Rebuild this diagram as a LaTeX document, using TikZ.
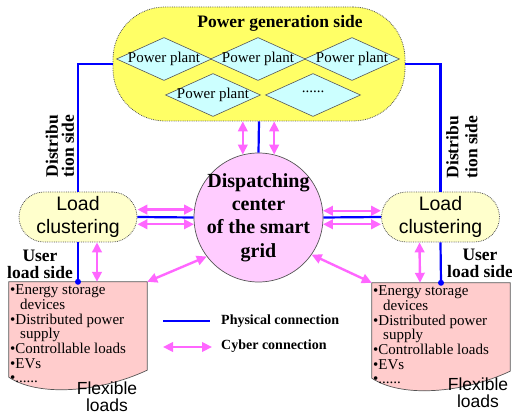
\documentclass[tikz,border=0pt]{standalone}
\usepackage{fontspec}
\setmainfont{Liberation Serif}
\setsansfont{Liberation Sans}
\usetikzlibrary{shapes.geometric,arrows.meta}
\definecolor{genyellow}{HTML}{FFFF66}
\definecolor{plantcyan}{HTML}{CCFFFF}
\definecolor{dcpink}{HTML}{FFCCFF}
\definecolor{lcyellow}{HTML}{FFFFCC}
\definecolor{flexpink}{HTML}{FFCCCC}
\definecolor{cybercol}{HTML}{FF66FF}
\definecolor{edgegray}{HTML}{555555}
\begin{document}
\begin{tikzpicture}[x=1pt,y=-1pt,
  phys/.style={draw=blue, line width=2.2pt},
  cyberarrow/.style={draw=cybercol, line width=2.4pt,
    {Triangle[length=10pt,width=9.5pt]}-{Triangle[length=10pt,width=9.5pt]}},
  genbox/.style={rectangle, rounded corners=52pt, draw=edgegray, densely dotted,
    line width=0.8pt, fill=genyellow, minimum width=292pt, minimum height=114pt},
  plant/.style={diamond, draw=edgegray, fill=plantcyan, line width=0.6pt,
    minimum width=95pt, minimum height=43pt, inner sep=0pt},
  planttext/.style={font=\fontsize{15}{15}\selectfont, inner sep=0pt},
  boldtext/.style={font=\fontsize{17.5}{17}\selectfont\bfseries, align=center, inner sep=0pt},
  lcbox/.style={rectangle, rounded corners=25pt, draw=edgegray, densely dotted,
    line width=0.8pt, fill=lcyellow, minimum width=118pt, minimum height=50pt,
    font=\fontsize{19.5}{23}\selectfont\sffamily, align=center, inner sep=0pt},
  dcbox/.style={circle, draw=edgegray, fill=dcpink, line width=0.7pt,
    minimum size=129pt, inner sep=0pt},
  dctext/.style={font=\fontsize{20}{23.3}\selectfont\bfseries, align=center, inner sep=0pt},
  flexframe/.style={rectangle, minimum width=138pt, minimum height=95pt, inner sep=0pt},
  flexshape/.style={draw=edgegray, fill=flexpink, line width=0.7pt},
  flextext/.style={font=\fontsize{15}{14.7}\selectfont, align=left, inner sep=1pt, anchor=west},
  flexlabel/.style={font=\fontsize{17.5}{17}\selectfont\sffamily, align=center, inner sep=0pt},
  legendtext/.style={font=\fontsize{14}{14}\selectfont\bfseries, anchor=west, inner sep=0pt},
  dot/.style={circle, fill=blue, inner sep=0pt, minimum size=6pt}
]
\useasboundingbox (0,0) rectangle (512,414);

% generation side
\node[genbox] (gen) at (259,64) {};
\node[boldtext] (gentitle) at (280,23) {Power generation side};
\node[plant] (d1) at (164,59) {};
\node[plant] (d2) at (258,59) {};
\node[plant] (d3) at (352,59) {};
\node[plant] (d4) at (213,95) {};
\node[plant] (d5) at (313,95) {};
\node[planttext] (t1) at (d1) {Power plant};
\node[planttext] (t2) at (d2) {Power plant};
\node[planttext] (t3) at (d3) {Power plant};
\node[planttext] (t4) at (d4) {Power plant};
\node[planttext] (t5) at ([yshift=3pt]d5) {......};

% dispatching center
\node[dcbox] (dc) at (258.5,217.5) {};
\node[dctext] (dct) at (dc) {Dispatching\\center\\of the smart\\grid};

% load clustering
\node[lcbox] (lcL) at (78,217) {Load\\clustering};
\node[lcbox] (lcR) at (440.5,217) {Load\\clustering};

% flexible loads
\node[flexframe] (flexL) at (78,329.5) {};
\node[flexframe] (flexR) at (441,330.5) {};
\draw[flexshape] (flexL.south west) -- (flexL.north west) -- (flexL.north east)
  -- ([yshift=7pt]flexL.south east) .. controls +(-47,22) and +(30,20) .. (flexL.south west) -- cycle;
\draw[flexshape] (flexR.south west) -- (flexR.north west) -- (flexR.north east)
  -- ([yshift=7pt]flexR.south east) .. controls +(-47,22) and +(30,20) .. (flexR.south west) -- cycle;
\node[flextext] (fl) at (9,334) {\textbullet Energy storage\\\hspace*{10pt}devices\\\textbullet Distributed power\\\hspace*{10pt}supply\\\textbullet Controllable loads\\\textbullet EVs\\\textbullet ......};
\node[flextext] (fr) at (372,335) {\textbullet Energy storage\\\hspace*{10pt}devices\\\textbullet Distributed power\\\hspace*{10pt}supply\\\textbullet Controllable loads\\\textbullet EVs\\\textbullet ......};
\node[flexlabel] (flabL) at (107,396.5) {Flexible\\loads};
\node[flexlabel] (flabR) at (478,393) {Flexible\\loads};

% side labels
\node[boldtext] (userL) at (40,264.5) {User\\load side};
\node[boldtext] (userR) at (480,263) {User\\load side};
\node[boldtext, rotate=90, align=left, font=\fontsize{17.5}{16}\selectfont\bfseries] (distL) at (60,146) {Distribu\\tion side};
\node[boldtext, rotate=90, align=left, font=\fontsize{17.5}{19}\selectfont\bfseries] (distR) at (462,147) {Distribu\\tion side};

% physical connections
\draw[phys] (gen.west) -| (lcL.north);
\draw[phys] (gen.east) -| (lcR.north);
\draw[phys] (gen.south) -- (dc.north);
\draw[phys] (lcL.east) -- (dc.west);
\draw[phys] (dc.east) -- (lcR.west);
\node[dot] (dotL) at (flexL.north) {};
\node[dot] (dotR) at (flexR.north) {};
\draw[phys] (lcL.south) -- (dotL.center);
\draw[phys] (lcR.south) -- (dotR.center);

% cyber connections
\draw[cyberarrow] (gen.south -| dc.104) -- (dc.104);
\draw[cyberarrow] (gen.south -| dc.76) -- (dc.76);
\draw[cyberarrow] (lcL.east |- dc.173.3) -- (dc.173.3);
\draw[cyberarrow] (lcL.east |- dc.186.7) -- (dc.186.7);
\draw[cyberarrow] (dc.6.7) -- (lcR.west |- dc.6.7);
\draw[cyberarrow] (dc.-6.7) -- (lcR.west |- dc.-6.7);
\draw[cyberarrow] ([xshift=19pt]lcL.south) -- ([xshift=19pt]flexL.north);
\draw[cyberarrow] ([xshift=-21pt]lcR.south) -- ([xshift=-21pt]flexR.north);
\draw[cyberarrow] (dc.217) -- (flexL.north east);
\draw[cyberarrow] (dc.325) -- (flexR.north west);

% legend
\coordinate (pa) at (163,321);
\coordinate (pb) at (210,321);
\coordinate (ca) at (163,347);
\coordinate (cb) at (212,347);
\draw[phys] (pa) -- (pb);
\draw[cyberarrow] (ca) -- (cb);
\node[legendtext] (pt) at (221,321) {Physical connection};
\node[legendtext] (ct) at (221,346) {Cyber connection};
\end{tikzpicture}
\end{document}
